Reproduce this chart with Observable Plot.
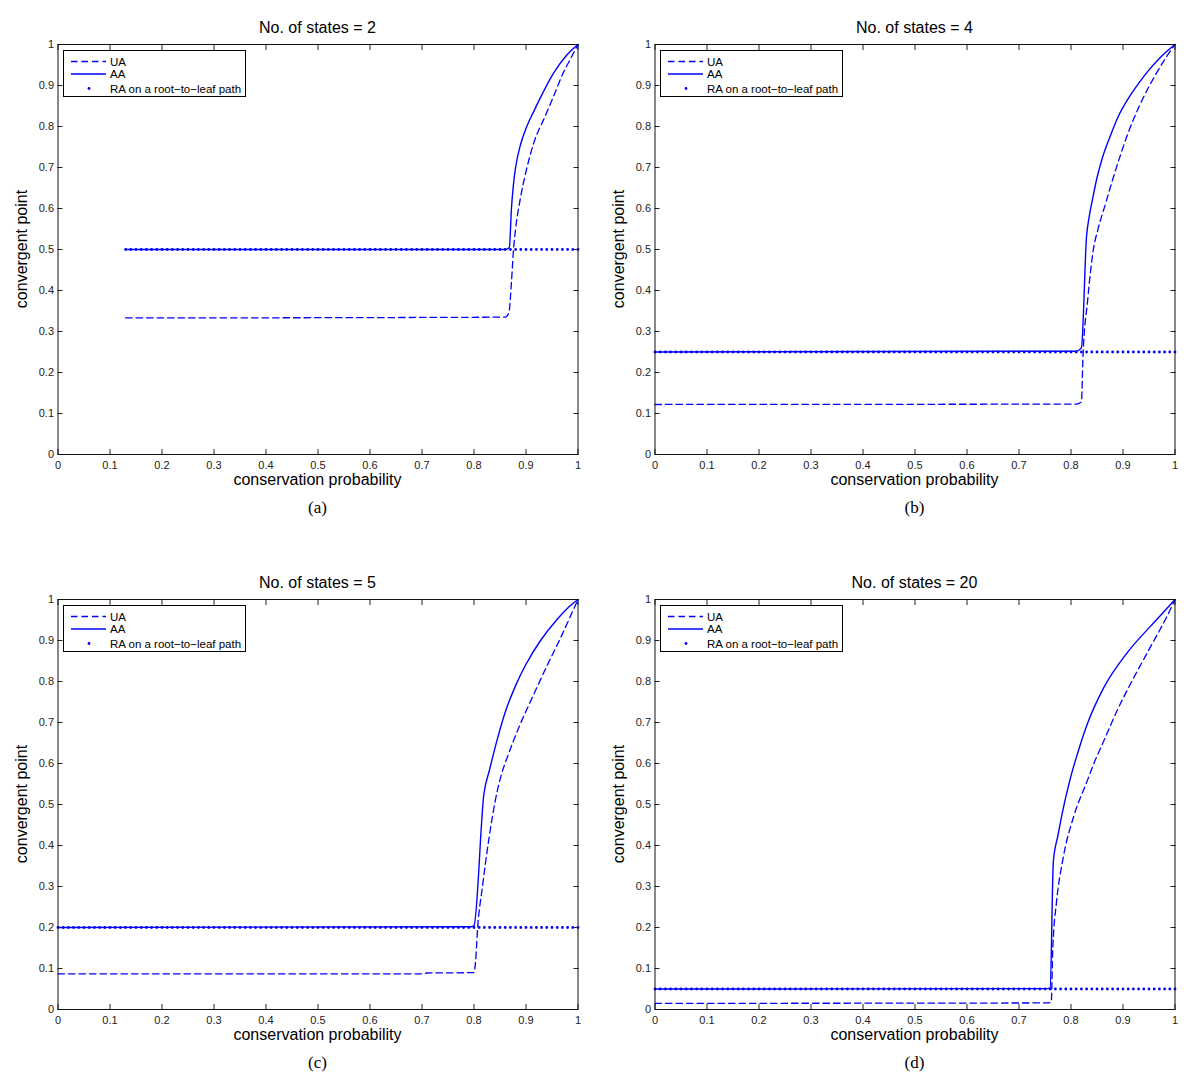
<!DOCTYPE html>
<html><head><meta charset="utf-8">
<script src="https://cdn.jsdelivr.net/npm/d3@7"></script>
<script src="https://cdn.jsdelivr.net/npm/@observablehq/plot@0.6"></script>
<style>
body{margin:0;background:#fff;}
#root{position:relative;width:1200px;height:1086px;font-family:"Liberation Sans",Arial,sans-serif;color:#000;overflow:hidden;}
.panel{position:absolute;width:600px;height:545px;}
.panel svg.plot{position:absolute;left:0;top:0;}
.title{position:absolute;left:57.5px;width:520px;text-align:center;top:18px;font-size:16px;line-height:20px;white-space:nowrap;}
.xlab{position:absolute;left:57.5px;width:520px;text-align:center;top:470px;font-size:16px;line-height:20px;white-space:nowrap;}
.ylab{position:absolute;left:22px;top:249px;transform:translate(-50%,-50%) rotate(-90deg);font-size:16px;line-height:20px;white-space:nowrap;}
.cap{position:absolute;left:57.5px;width:520px;text-align:center;top:498px;font-size:17px;line-height:20px;font-family:"Liberation Serif","DejaVu Serif",serif;}
.legend{position:absolute;left:63px;top:50px;width:183px;height:47px;border:1px solid #000;background:#fff;box-sizing:border-box;}
.legend svg{position:absolute;left:0;top:0;}
</style>
</head><body>
<div id="root"></div>
<script>
// ---- data ----
const stateCounts = [2, 4, 5, 20];
const captions = ["(a)", "(b)", "(c)", "(d)"];
const raValues = [0.5, 0.25, 0.2, 0.05];
const raStarts = [0.13, 0, 0, 0];

const uaA = [[0.13,0.333],[0.86,0.335],[0.867,0.345],[0.872,0.42],[0.876,0.5],[0.88,0.55],[0.89,0.63],[0.9,0.69],[0.915,0.76],[0.9375,0.827],[0.955,0.88],[0.972,0.932],[0.986,0.966],[1,1]];
const aaA = [[0.13,0.5],[0.86,0.5],[0.868,0.505],[0.872,0.6],[0.876,0.66],[0.88,0.7],[0.89,0.758],[0.9,0.795],[0.915,0.837],[0.928,0.871],[0.953,0.93],[0.979,0.975],[1,1]];

const uaB = [[0,0.122],[0.81,0.123],[0.82,0.128],[0.823,0.237],[0.832,0.376],[0.843,0.5],[0.852,0.55],[0.866,0.61],[0.88,0.67],[0.895,0.73],[0.91,0.785],[0.934,0.857],[0.962,0.925],[0.98,0.963],[1,1]];
const aaB = [[0,0.25],[0.81,0.252],[0.82,0.26],[0.83,0.534],[0.835,0.58],[0.841,0.62],[0.85,0.675],[0.86,0.722],[0.875,0.775],[0.89,0.822],[0.91,0.868],[0.93,0.905],[0.95,0.938],[0.97,0.966],[0.985,0.984],[1,1]];

const uaC = [[0,0.087],[0.7,0.087],[0.71,0.089],[0.8,0.09],[0.803,0.117],[0.807,0.199],[0.816,0.297],[0.829,0.419],[0.841,0.51],[0.852,0.57],[0.864,0.615],[0.889,0.696],[0.915,0.769],[0.941,0.84],[0.966,0.905],[0.985,0.958],[1,1]];
const aaC = [[0,0.2],[0.795,0.202],[0.8,0.205],[0.819,0.525],[0.83,0.585],[0.845,0.66],[0.86,0.725],[0.88,0.79],[0.9,0.842],[0.928,0.9],[0.96,0.952],[0.985,0.985],[1,1]];

const uaD = [[0,0.015],[0.755,0.016],[0.762,0.018],[0.765,0.15],[0.772,0.26],[0.785,0.37],[0.805,0.47],[0.831,0.557],[0.844,0.6],[0.863,0.655],[0.889,0.73],[0.921,0.81],[0.953,0.885],[0.985,0.96],[1,1]];
const aaD = [[0,0.05],[0.755,0.051],[0.76,0.053],[0.766,0.36],[0.775,0.425],[0.785,0.49],[0.799,0.565],[0.812,0.622],[0.831,0.695],[0.863,0.785],[0.908,0.87],[0.953,0.935],[0.98,0.972],[1,1]];

const axisTicks = [0,0.1,0.2,0.3,0.4,0.5,0.6,0.7,0.8,0.9,1];
const tickLabels = ["0","0.1","0.2","0.3","0.4","0.5","0.6","0.7","0.8","0.9","1"];
const legendLabels = ["UA", "AA", "RA on a root\u2212to\u2212leaf path"];
const xLabel = "conservation probability";
const yLabel = "convergent point";

const uaSeries = [uaA, uaB, uaC, uaD];
const aaSeries = [aaA, aaB, aaC, aaD];

// ---- drawing ----
const BLUE = "#0000ff";
const panelPos = [[0,0],[597,0],[0,555],[597,555]];
const root = document.getElementById("root");
const fmt = d => tickLabels[axisTicks.indexOf(d)] ?? "";

function makePlot(i) {
  const ra = [[raStarts[i], raValues[i]], [1, raValues[i]]];
  const plot = Plot.plot({
    width: 600, height: 520,
    marginLeft: 57.5, marginRight: 22.5, marginTop: 44, marginBottom: 66,
    x: {domain: [0, 1]},
    y: {domain: [0, 1]},
    style: {fontFamily: "'Liberation Sans', Arial, sans-serif", fontSize: "11px", color: "#000", background: "transparent", overflow: "visible"},
    marks: [
      Plot.axisX({anchor: "bottom", ticks: axisTicks, tickFormat: fmt, tickSize: -5, tickPadding: 12, label: null, stroke: "#222", fill: "#222"}),
      Plot.axisX({anchor: "top", ticks: axisTicks, tickFormat: () => "", tickSize: -5, label: null, stroke: "#222"}),
      Plot.axisY({anchor: "left", ticks: axisTicks, tickFormat: fmt, tickSize: -5, tickPadding: 9, label: null, stroke: "#222", fill: "#222"}),
      Plot.axisY({anchor: "right", ticks: axisTicks, tickFormat: () => "", tickSize: -5, label: null, stroke: "#222"}),
      Plot.line(ra, {x: d => d[0], y: d => d[1], stroke: BLUE, strokeWidth: 2.8, strokeDasharray: "0,5.2", strokeLinecap: "round"}),
      Plot.line(uaSeries[i], {x: d => d[0], y: d => d[1], stroke: BLUE, strokeWidth: 1.3, strokeDasharray: "6.5,4", curve: "monotone-x"}),
      Plot.line(aaSeries[i], {x: d => d[0], y: d => d[1], stroke: BLUE, strokeWidth: 1.4, curve: "monotone-x"}),
      Plot.frame({stroke: "#111", strokeWidth: 1})
    ]
  });
  plot.classList.add("plot");
  return plot;
}

function legendSvg() {
  const ns = "http://www.w3.org/2000/svg";
  const svg = document.createElementNS(ns, "svg");
  svg.setAttribute("width", 183); svg.setAttribute("height", 47);
  const rows = [10.5, 23, 37.5];
  const add = (tag, attrs, text) => {
    const el = document.createElementNS(ns, tag);
    for (const k in attrs) el.setAttribute(k, attrs[k]);
    if (text) el.textContent = text;
    svg.appendChild(el);
  };
  add("line", {x1: 7, x2: 42, y1: rows[0], y2: rows[0], stroke: BLUE, "stroke-width": 1.3, "stroke-dasharray": "6.5,4"});
  add("line", {x1: 7, x2: 42, y1: rows[1], y2: rows[1], stroke: BLUE, "stroke-width": 1.4});
  add("circle", {cx: 25, cy: rows[2], r: 1.4, fill: BLUE});
  legendLabels.forEach((t, j) => add("text", {x: 46, y: rows[j], dy: "0.36em", "font-size": "11.5px", "font-family": "'Liberation Sans', Arial, sans-serif", fill: "#000"}, t));
  return svg;
}

for (let i = 0; i < 4; i++) {
  const p = document.createElement("div");
  p.className = "panel";
  p.style.left = panelPos[i][0] + "px";
  p.style.top = panelPos[i][1] + "px";
  p.appendChild(makePlot(i));
  const t = document.createElement("div"); t.className = "title"; t.textContent = "No. of states = " + stateCounts[i]; p.appendChild(t);
  const xl = document.createElement("div"); xl.className = "xlab"; xl.textContent = xLabel; p.appendChild(xl);
  const yl = document.createElement("div"); yl.className = "ylab"; yl.textContent = yLabel; p.appendChild(yl);
  const c = document.createElement("div"); c.className = "cap"; c.textContent = captions[i]; p.appendChild(c);
  const lg = document.createElement("div"); lg.className = "legend"; lg.appendChild(legendSvg()); p.appendChild(lg);
  root.appendChild(p);
}
</script>
</body></html>
